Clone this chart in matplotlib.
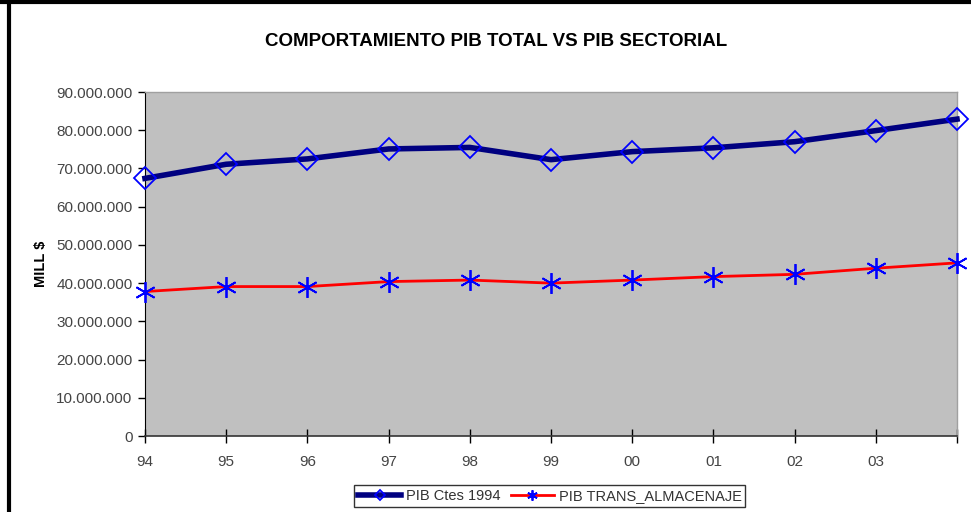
import matplotlib.pyplot as plt
from matplotlib.lines import Line2D
from matplotlib.ticker import FuncFormatter

plt.rcParams["font.family"] = ["Liberation Sans", "DejaVu Sans"]

years = ["94", "95", "96", "97", "98", "99", "00", "01", "02", "03", "04"]
pib_total = [67.4, 71.1, 72.5, 75.1, 75.5, 72.3, 74.4, 75.4, 77.0, 79.9, 82.9]
pib_trans = [37.8, 39.1, 39.1, 40.4, 40.8, 40.0, 40.8, 41.7, 42.3, 43.9, 45.3]

pib_total = [v * 1e6 for v in pib_total]
pib_trans = [v * 1e6 for v in pib_trans]

fig = plt.figure(figsize=(9.71, 5.12), dpi=100)
ax = fig.add_axes([0.1493, 0.1484, 0.8363, 0.6719])
ax.set_facecolor("#c0c0c0")

x = list(range(len(years)))
ax.plot(x, pib_total, color="#000080", linewidth=4, marker="D", markersize=11,
        markerfacecolor="none", markeredgecolor="#0000ff", markeredgewidth=1.3,
        label="PIB Ctes 1994", clip_on=False, zorder=3)
ax.plot(x, pib_trans, color="#ff0000", linewidth=2, marker=(6, 2, 0), markersize=15,
        markeredgecolor="#0000ff", markeredgewidth=1.3,
        label="PIB TRANS_ALMACENAJE", clip_on=False, zorder=3)

ax.set_xlim(0, len(years) - 1)
ax.set_ylim(0, 90e6)
ax.set_yticks([i * 10e6 for i in range(10)])
ax.yaxis.set_major_formatter(FuncFormatter(lambda v, p: f"{int(v):,}".replace(",", ".")))
ax.set_xticks(x)
ax.set_xticklabels(years[:-1] + [""])

for s in ["top", "right"]:
    ax.spines[s].set_color("#a0a0a0")
    ax.spines[s].set_linewidth(1)
ax.spines["left"].set_color("black")
ax.spines["bottom"].set_color("#333333")
ax.spines["bottom"].set_linewidth(1.2)

ax.tick_params(axis="x", direction="inout", length=10, width=1, colors="black",
               labelcolor="#444444", labelsize=11, pad=9)
ax.tick_params(axis="y", direction="out", length=5, width=1, colors="black",
               labelcolor="#444444", labelsize=11, pad=4)

ax.set_ylabel("MILL $", fontweight="bold", fontsize=10.5, labelpad=6)

fig.text(0.511, 0.918, "COMPORTAMIENTO PIB TOTAL VS PIB SECTORIAL",
         ha="center", va="center", fontsize=13.5, fontweight="bold")

leg = fig.legend(loc="center", bbox_to_anchor=(0.566, 0.031), ncol=2,
                 frameon=True, fancybox=False, fontsize=10.5, handlelength=3.0,
                 handletextpad=0.3, columnspacing=0.7, borderpad=0.25,
                 markerscale=0.5)
leg.get_frame().set_edgecolor("black")
leg.get_frame().set_linewidth(1)
for t in leg.get_texts():
    t.set_color("#333333")

# outer frame lines at left and top
fig.add_artist(Line2D([9 / 971, 9 / 971], [0, 1], transform=fig.transFigure,
                      color="black", linewidth=3))
fig.add_artist(Line2D([0, 1], [1 - 2 / 512, 1 - 2 / 512], transform=fig.transFigure,
                      color="black", linewidth=3))

fig.savefig("out.png", dpi=100)
